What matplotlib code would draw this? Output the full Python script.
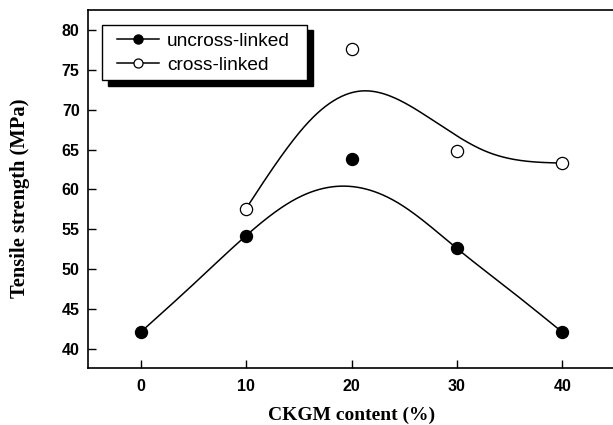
import numpy as np
import matplotlib
matplotlib.use("Agg")
import matplotlib.pyplot as plt
from matplotlib.patches import Rectangle

# ---- data ----
ckgm = [0, 10, 20, 30, 40]
uncross = [42.1, 54.2, 63.8, 52.6, 42.1]
cross_x = [10, 20, 30, 40]
cross = [57.6, 77.6, 64.8, 63.3]

# fitted-curve knots
uncross_curve_x = [0, 5, 10, 14.85, 19.6, 24.3, 30, 35, 40]
uncross_curve_y = [42.1, 48.1, 54.2, 58.9, 60.4, 58.4, 52.6, 47.4, 42.1]
cross_curve_x = [10, 13.3, 16.4, 21.0, 26.4, 32.7, 40]
cross_curve_y = [57.6, 64.1, 69.1, 72.35, 69.8, 64.8, 63.3]

xticks = [0, 10, 20, 30, 40]
yticks = [40, 45, 50, 55, 60, 65, 70, 75, 80]


def natural_spline(x, y, n=400):
    x = np.asarray(x, float)
    y = np.asarray(y, float)
    k = len(x)
    h = np.diff(x)
    A = np.zeros((k, k))
    b = np.zeros(k)
    A[0, 0] = A[-1, -1] = 1
    for i in range(1, k - 1):
        A[i, i - 1] = h[i - 1]
        A[i, i] = 2 * (h[i - 1] + h[i])
        A[i, i + 1] = h[i]
        b[i] = 3 * ((y[i + 1] - y[i]) / h[i] - (y[i] - y[i - 1]) / h[i - 1])
    c = np.linalg.solve(A, b)
    xs = np.linspace(x[0], x[-1], n)
    idx = np.clip(np.searchsorted(x, xs) - 1, 0, k - 2)
    dx = xs - x[idx]
    hi = h[idx]
    bb = (y[idx + 1] - y[idx]) / hi - hi * (2 * c[idx] + c[idx + 1]) / 3
    d = (c[idx + 1] - c[idx]) / (3 * hi)
    ys = y[idx] + bb * dx + c[idx] * dx ** 2 + d * dx ** 3
    return xs, ys


fig = plt.figure(figsize=(6.13, 4.25), dpi=100)
ax = fig.add_axes([88 / 613, 57 / 425, 527 / 613, 358 / 425])

ux, uy = natural_spline(uncross_curve_x, uncross_curve_y)
cx, cy = natural_spline(cross_curve_x, cross_curve_y)
ax.plot(ux, uy, color="black", lw=1.1, zorder=2)
ax.plot(cx, cy, color="black", lw=1.1, zorder=2)

ax.plot(ckgm, uncross, linestyle="none", marker="o", ms=8.6,
        mfc="black", mec="black", mew=1.0, zorder=3)
ax.plot(cross_x, cross, linestyle="none", marker="o", ms=8.8,
        mfc="white", mec="black", mew=0.9, zorder=3)

# legend proxies
h1, = ax.plot([], [], color="black", lw=1.1, marker="o", ms=6.5, mfc="black", mec="black")
h2, = ax.plot([], [], color="black", lw=1.1, marker="o", ms=6.5, mfc="white", mec="black", mew=0.9)
leg = ax.legend([h1, h2], ["uncross-linked", "cross-linked"], loc="upper left",
                bbox_to_anchor=(0.0546, 0.937), borderaxespad=0, borderpad=0,
                frameon=False, handlelength=2.2, handletextpad=0.42,
                labelspacing=0.33, prop={"family": "Liberation Sans", "size": 13.8})
leg.set_zorder(6)

# legend frame with solid shadow
ax.add_patch(Rectangle((0.038, 0.789), 0.3898, 0.155, transform=ax.transAxes,
                       facecolor="black", edgecolor="black", zorder=4, clip_on=False))
ax.add_patch(Rectangle((0.0266, 0.8045), 0.3892, 0.1535, transform=ax.transAxes,
                       facecolor="white", edgecolor="black", lw=1.0, zorder=5, clip_on=False))

ax.set_xlim(-5, 45)
ax.set_ylim(37.6, 82.5)
ax.set_xticks(xticks)
ax.set_yticks(yticks)
ax.spines["right"].set_visible(False)
for s in ["left", "bottom", "top"]:
    ax.spines[s].set_linewidth(1.2)
ax.tick_params(axis="both", direction="in", length=5.5, width=1.0)
ax.tick_params(axis="x", pad=8)
ax.tick_params(axis="y", pad=6)
for lab in ax.get_xticklabels() + ax.get_yticklabels():
    lab.set_family("Liberation Sans")
    lab.set_fontweight("bold")
    lab.set_fontsize(11.5)

ax.set_xlabel("CKGM content (%)", family="Liberation Serif", fontweight="bold",
              fontsize=14, labelpad=9)
ax.set_ylabel("Tensile strength (MPa)", family="Liberation Serif", fontweight="bold",
              fontsize=14.8)
ax.yaxis.set_label_coords(-0.110, 0.475)

fig.savefig("out.png", dpi=100)
